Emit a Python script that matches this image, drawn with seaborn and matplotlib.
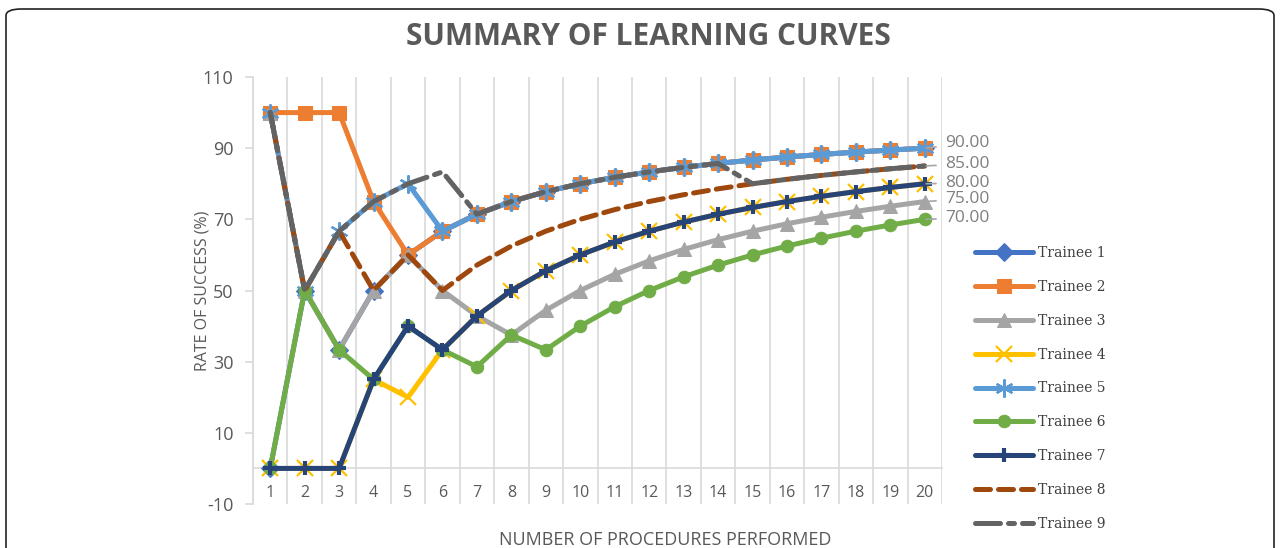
import numpy as np
import pandas as pd
import matplotlib
matplotlib.use('Agg')
import matplotlib.pyplot as plt
import seaborn as sns
from matplotlib.patches import FancyBboxPatch

# ── data (success rate %, procedures 1..20) ──────────────────────────────────
procedures = list(range(1, 21))
trainee_1 = [0, 50, 33.33, 50, 60, 66.67, 71.43, 75, 77.78, 80, 81.82, 83.33, 84.62, 85.71, 86.67, 87.5, 88.24, 88.89, 89.47, 90]
trainee_2 = [100, 100, 100, 75, 60, 66.67, 71.43, 75, 77.78, 80, 81.82, 83.33, 84.62, 85.71, 86.67, 87.5, 88.24, 88.89, 89.47, 90]
trainee_3 = [100, 50, 33.33, 50, 60, 50, 42.86, 37.5, 44.44, 50, 54.55, 58.33, 61.54, 64.29, 66.67, 68.75, 70.59, 72.22, 73.68, 75]
trainee_4 = [0, 0, 0, 25, 20, 33.33, 42.86, 50, 55.56, 60, 63.64, 66.67, 69.23, 71.43, 73.33, 75, 76.47, 77.78, 78.95, 80]
trainee_5 = [100, 50, 66.67, 75, 80, 66.67, 71.43, 75, 77.78, 80, 81.82, 83.33, 84.62, 85.71, 86.67, 87.5, 88.24, 88.89, 89.47, 90]
trainee_6 = [0, 50, 33.33, 25, 40, 33.33, 28.57, 37.5, 33.33, 40, 45.45, 50, 53.85, 57.14, 60, 62.5, 64.71, 66.67, 68.42, 70]
trainee_7 = [0, 0, 0, 25, 40, 33.33, 42.86, 50, 55.56, 60, 63.64, 66.67, 69.23, 71.43, 73.33, 75, 76.47, 77.78, 78.95, 80]
trainee_8 = [100, 50, 66.67, 50, 60, 50, 57.14, 62.5, 66.67, 70, 72.73, 75, 76.92, 78.57, 80, 81.25, 82.35, 83.33, 84.21, 85]
trainee_9 = [100, 50, 66.67, 75, 80, 83.33, 71.43, 75, 77.78, 80, 81.82, 83.33, 84.62, 85.71, 80, 81.25, 82.35, 83.33, 84.21, 85]

names = ['Trainee 1', 'Trainee 2', 'Trainee 3', 'Trainee 4', 'Trainee 5',
         'Trainee 6', 'Trainee 7', 'Trainee 8', 'Trainee 9']
series = [trainee_1, trainee_2, trainee_3, trainee_4, trainee_5,
          trainee_6, trainee_7, trainee_8, trainee_9]
y_ticks = [-10, 10, 30, 50, 70, 90, 110]
labelled = ['Trainee 1', 'Trainee 8', 'Trainee 7', 'Trainee 3', 'Trainee 6']

df = pd.DataFrame({'Procedure': procedures * len(names),
                   'Rate': [v for s in series for v in s],
                   'Trainee': [n for n in names for _ in procedures]})

# ── styles ───────────────────────────────────────────────────────────────────
COLORS = ['#4472C4', '#ED7D31', '#A5A5A5', '#FFC000', '#5B9BD5',
          '#70AD47', '#264478', '#9E480E', '#636363']
STYLE = {
    'Trainee 1': dict(marker='D', ms=9),
    'Trainee 2': dict(marker='s', ms=9.5),
    'Trainee 3': dict(marker='^', ms=10),
    'Trainee 4': dict(marker='x', ms=11, mew=1.6),
    'Trainee 5': dict(marker=(6, 2, 0), ms=13, mew=1.6),
    'Trainee 6': dict(marker='o', ms=9),
    'Trainee 7': dict(marker='+', ms=10, mew=3),
    'Trainee 8': dict(dashes=(3, 1.6)),
    'Trainee 9': dict(dashes=(5, 1.6, 1.2, 1.6)),
}

sns.set_theme(style='white')
plt.rcParams['font.family'] = ['Open Sans', 'DejaVu Sans']
plt.rcParams['axes.unicode_minus'] = False
TXT = '#595959'

fig = plt.figure(figsize=(12.82, 5.48), dpi=100)
ax = fig.add_axes([253 / 1282, 44 / 548, 689 / 1282, 427 / 548])

for name, color in zip(names, COLORS):
    st = dict(STYLE[name])
    dashes = st.pop('dashes', None)
    sub = df[df['Trainee'] == name]
    sns.lineplot(data=sub, x='Procedure', y='Rate', ax=ax, color=color, lw=3.6,
                 label=name, solid_capstyle='round', dash_capstyle='round',
                 mec=color, mfc=color, zorder=3, **st)
    if dashes is not None:
        ax.lines[-1].set_dashes(dashes)

# data labels at the last procedure
offs = {'Trainee 1': 3.6, 'Trainee 8': 1.5, 'Trainee 7': 0.5, 'Trainee 3': 1.8, 'Trainee 6': 0.9}
for name in labelled:
    v = series[names.index(name)][-1]
    ax.annotate(f'{v:.2f}', xy=(procedures[-1], v), xytext=(14.5, offs[name]),
                textcoords='offset points', va='center', ha='left',
                fontsize=12.5, color='#7f7f7f', annotation_clip=False,
                arrowprops=dict(arrowstyle='-', color='#a6a6a6', lw=1.2,
                                shrinkA=4, shrinkB=1))

ax.set_xlim(0.5, 20.5)
ax.set_ylim(-10, 110)
ax.set_yticks(y_ticks)
ax.set_xticks(procedures)
ax.set_xticks(np.arange(0.5, 21, 1), minor=True)
ax.grid(True, which='minor', axis='x', color='#d9d9d9', lw=1.2)
ax.grid(False, which='major')
ax.spines['bottom'].set_position(('data', 0))
for s in ['top', 'right']:
    ax.spines[s].set_visible(False)
for s in ['bottom', 'left']:
    ax.spines[s].set_color('#d9d9d9')
    ax.spines[s].set_linewidth(1.2)
    ax.spines[s].set_zorder(1)
ax.tick_params(axis='x', which='both', length=0, pad=12, labelsize=11.5, labelcolor=TXT)
ax.tick_params(axis='y', length=6, width=1.2, color='#d9d9d9', pad=8,
               labelsize=13, labelcolor=TXT, left=True)
ax.set_xlabel('')
ax.set_ylabel('RATE OF SUCCESS (%)', fontsize=11.5, color=TXT)
ax.yaxis.set_label_coords(-0.062, 0.5)
fig.text(665 / 1282, 1 - 540 / 548, 'NUMBER OF PROCEDURES PERFORMED', fontsize=13,
         color=TXT, ha='center', va='center')
fig.text(648 / 1282, 1 - 37 / 548, 'SUMMARY OF LEARNING CURVES', fontsize=21.5,
         fontweight='bold', color=TXT, ha='center', va='center')

ax.legend(loc='upper left', bbox_to_anchor=(975 / 1282, 1 - 246 / 548),
          bbox_transform=fig.transFigure, frameon=False, handlelength=4.2,
          handletextpad=0.3, labelspacing=1.43, borderpad=0, borderaxespad=0,
          prop={'family': 'DejaVu Serif', 'size': 10}, labelcolor='#404040')

fig.patches.append(FancyBboxPatch((6 / 1282, -0.2), 1268 / 1282, 1.2 - 9 / 548,
                                  boxstyle='round,pad=0,rounding_size=0.012',
                                  transform=fig.transFigure, fill=False,
                                  ec='#222222', lw=1.2))

plt.savefig('out.png', dpi=100)
plt.close()
